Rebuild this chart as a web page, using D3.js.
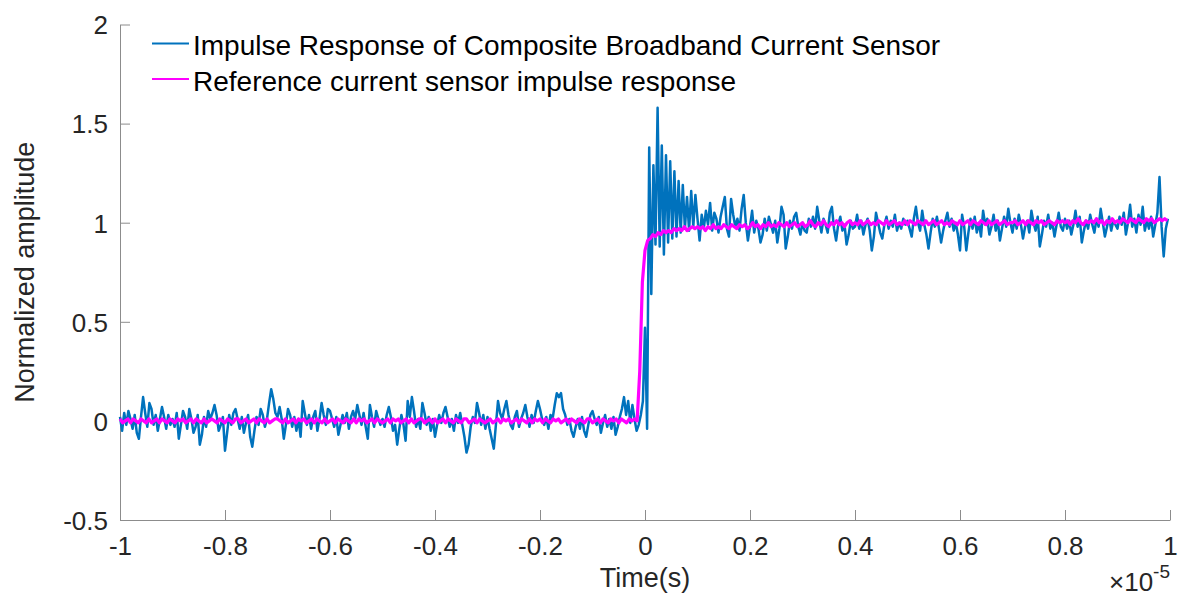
<!DOCTYPE html>
<html>
<head>
<meta charset="utf-8">
<script src="https://cdn.jsdelivr.net/npm/d3@7"></script>
<style>
  html, body { margin: 0; padding: 0; background: #fff; }
  svg { display: block; }
  text { font-family: "Liberation Sans", Arial, Helvetica, sans-serif; }
</style>
</head>
<body>
<svg id="chart" width="1180" height="599"></svg>
<script>
// Sampling grids (time axis in units of 1e-5 s)
const tStart = -1;
const sensorStep = 0.004;
const referenceStep = 0.005;

// Composite broadband current sensor, one row per 0.1e-5 s
const sensorResponse = [
  0.02,-0.05,0.04,-0.02,0.05,0.01,-0.04,0.03,-0.06,-0.09,0.02,0.12,0.04,-0.03,0.09,0.06,-0.02,0.03,-0.05,0.01,0.07,0.02,-0.04,0.03,-0.02,
  0.01,-0.03,0.04,-0.09,-0.02,0.05,0.02,-0.04,0.06,0.01,-0.06,-0.03,0.03,-0.12,-0.07,0.02,-0.03,0.05,0.01,0.04,0.08,0.03,-0.05,-0.02,0.02,
  -0.15,-0.06,0.03,-0.02,0.04,0.06,0.01,-0.04,0.02,-0.06,-0.01,0.03,-0.08,-0.13,-0.05,0.02,-0.02,0.06,0.03,-0.03,0.01,0.09,0.16,0.11,0.04,
  0.02,0.07,0.01,-0.09,-0.02,0.06,0.03,-0.03,0.02,-0.05,0.01,-0.08,0.10,0.04,-0.02,0.03,-0.04,0.02,0.05,-0.05,0.01,0.09,0.03,-0.02,0.06,
  0.05,0.01,-0.03,0.02,-0.07,-0.02,0.03,-0.01,0.04,-0.04,0.02,0.05,0.01,0.08,0.03,-0.02,0.04,-0.03,-0.09,0.08,0.02,-0.03,0.05,0.01,-0.02,
  0.01,-0.03,0.03,0.07,0.02,-0.05,-0.02,-0.12,-0.04,0.03,-0.02,-0.10,0.10,0.02,0.12,0.05,-0.03,0.01,-0.04,0.09,0.04,-0.02,0.02,-0.05,0.01,
  -0.08,-0.02,0.03,-0.01,0.04,0.07,0.02,-0.03,0.01,-0.05,0.03,-0.01,0.04,-0.02,-0.08,-0.16,-0.12,-0.03,0.02,-0.01,0.09,0.04,-0.02,0.03,-0.04,
  0.02,-0.04,-0.09,-0.14,-0.02,0.10,0.04,0.01,0.06,0.10,0.03,-0.02,-0.04,0.02,0.05,-0.03,0.01,0.04,0.08,0.02,-0.03,0.03,-0.01,0.05,0.10,
  0.06,0.01,-0.02,0.02,-0.04,0.03,0.01,0.08,0.14,0.12,0.14,0.06,0.03,-0.02,0.01,-0.05,-0.08,-0.03,0.01,-0.04,0.02,-0.05,-0.08,-0.02,0.03,
  0.05,0.01,-0.02,0.02,-0.06,-0.01,0.03,-0.03,0.01,-0.04,0.02,-0.07,-0.03,0.02,0.06,0.12,0.03,0.10,-0.01,0.08,0.01,-0.05,-0.02,0.03,0.10,
  0.47,-0.04,1.38,0.64,1.29,0.89,1.58,0.88,1.39,0.84,1.34,0.90,1.31,0.92,1.26,0.93,1.21,0.95,1.19,0.97,1.13,0.96,1.16,0.98,1.14,
  1.02,0.91,1.04,0.97,1.06,0.99,1.10,0.96,1.05,1.02,0.95,1.03,1.08,1.13,0.97,0.93,1.12,1.04,0.98,1.02,0.96,1.07,1.14,1.00,0.91,
  0.98,1.06,0.95,1.01,0.97,0.90,0.94,1.02,0.96,1.03,0.99,0.95,1.01,0.90,0.97,1.08,1.04,0.87,0.93,1.01,0.97,1.03,1.05,0.98,0.94,
  1.00,0.96,0.95,1.02,0.98,1.03,0.97,1.08,1.01,0.95,1.02,0.99,0.95,1.05,1.08,0.97,0.91,0.99,1.03,0.96,0.99,0.89,0.94,1.01,0.97,
  0.98,1.04,0.97,1.01,0.94,0.99,1.02,0.96,0.86,0.93,1.05,1.00,0.95,0.92,0.99,1.03,0.97,1.01,0.98,1.04,0.96,1.00,0.97,1.02,0.99,
  1.01,0.97,0.93,1.02,1.08,1.00,0.96,1.06,0.99,0.94,0.87,0.95,1.02,0.98,1.03,0.97,0.90,0.96,1.01,1.05,0.98,1.02,0.96,1.00,0.94,
  0.86,1.04,0.98,0.86,0.95,1.02,0.97,1.03,0.95,1.00,0.93,1.06,0.99,1.02,0.94,0.98,1.04,0.96,1.01,0.91,0.97,1.03,0.98,1.07,1.00,
  0.95,1.02,0.97,1.04,0.99,0.92,0.98,1.01,0.95,1.06,1.00,0.96,1.03,0.88,0.94,1.01,0.98,1.04,0.97,1.00,0.93,0.99,1.05,0.98,0.96,
  1.02,0.97,1.01,0.94,0.99,1.06,0.98,1.03,0.90,0.96,1.01,0.97,1.04,0.99,0.95,1.02,0.98,1.07,1.00,0.93,0.98,1.03,0.96,1.01,0.99,
  0.97,1.03,0.99,1.05,0.94,1.00,1.09,0.98,1.02,0.95,1.04,0.99,1.08,0.96,1.01,0.97,1.03,0.93,0.99,1.05,1.23,0.98,0.83,0.97,1.02
];

// Reference current sensor, one row per 0.1e-5 s
const referenceResponse = [
  0.01,-0.01,0.00,0.01,-0.01,0.01,0.00,-0.01,0.01,0.00,-0.01,0.01,-0.01,0.00,0.01,-0.01,0.01,0.00,-0.01,0.01,
  0.00,-0.01,0.01,0.00,0.01,-0.01,0.00,0.01,-0.01,0.01,0.00,-0.01,0.01,-0.01,0.00,0.01,0.00,-0.01,0.01,0.00,
  -0.01,0.01,0.00,-0.01,0.01,0.01,-0.01,0.00,0.01,-0.01,0.00,0.01,-0.01,0.01,0.00,-0.01,0.01,-0.01,0.00,0.01,
  0.01,0.00,-0.01,0.01,-0.01,0.00,0.01,-0.01,0.01,0.00,0.01,-0.01,0.00,0.01,-0.01,0.01,0.00,-0.01,0.01,-0.01,
  0.00,0.01,-0.01,0.01,0.00,-0.01,0.01,0.00,-0.01,0.01,-0.01,0.01,0.00,0.01,-0.01,0.00,0.01,-0.01,0.01,0.00,
  -0.01,0.00,0.01,-0.01,0.01,0.00,0.01,-0.01,0.00,0.01,-0.01,0.01,-0.01,0.00,0.01,0.01,-0.01,0.00,0.01,-0.01,
  0.01,-0.01,0.00,0.01,-0.01,0.01,0.00,-0.01,0.01,0.00,-0.01,0.01,0.01,-0.01,0.00,0.01,-0.01,0.01,0.00,-0.01,
  0.00,0.01,-0.01,0.00,0.01,-0.01,0.01,0.00,0.01,-0.01,0.00,0.01,-0.01,0.01,0.00,-0.01,0.01,-0.01,0.01,0.00,
  0.01,-0.01,0.01,0.00,-0.01,0.01,0.00,0.01,-0.01,0.00,0.01,-0.01,0.01,0.00,-0.01,0.01,0.00,-0.01,0.01,0.01,
  -0.01,0.00,0.01,-0.01,0.01,0.00,-0.01,0.01,0.00,0.01,-0.01,0.01,0.00,-0.01,0.01,0.00,0.01,0.00,0.25,0.70,
  0.86,0.91,0.92,0.94,0.93,0.95,0.94,0.96,0.95,0.96,0.95,0.97,0.96,0.97,0.96,0.98,0.96,0.97,0.98,0.97,
  0.98,0.97,0.98,0.96,0.98,0.97,0.99,0.97,0.98,0.97,0.99,0.98,0.97,0.99,0.98,0.97,0.99,0.98,0.99,0.97,
  0.98,1.00,0.98,0.99,0.97,0.99,0.98,1.00,0.98,0.99,0.98,1.00,0.99,0.98,1.00,0.98,0.99,1.00,0.98,0.99,
  1.00,0.98,0.99,1.01,0.99,0.98,1.00,0.99,1.01,0.99,0.98,1.00,0.99,1.01,0.99,1.00,0.98,1.00,1.01,0.99,
  1.00,0.99,1.01,0.99,1.00,1.01,0.99,1.00,0.99,1.01,1.00,0.99,1.01,0.99,1.00,1.01,0.99,1.00,0.99,1.01,
  0.99,1.01,1.00,0.99,1.01,1.00,0.99,1.01,0.99,1.00,1.01,0.99,1.00,1.01,0.99,1.00,0.99,1.01,1.00,0.99,
  1.01,0.99,1.00,1.01,0.99,1.01,1.00,0.99,1.01,1.00,0.99,1.01,0.99,1.00,1.01,0.99,1.00,1.01,0.99,1.00,
  1.00,1.01,0.99,1.00,1.01,0.99,1.01,1.00,0.99,1.01,1.00,1.01,0.99,1.00,1.01,1.00,0.99,1.01,1.00,1.01,
  1.00,1.01,0.99,1.01,1.00,1.02,1.00,0.99,1.01,1.00,1.01,1.00,1.02,1.00,1.01,0.99,1.01,1.00,1.02,1.00,
  1.01,1.00,1.02,1.01,1.00,1.02,1.01,1.00,1.02,1.01,1.00,1.02,1.01,1.02,1.00,1.01,1.02,1.01,1.02,1.01
];

const xTicks = [-1, -0.8, -0.6, -0.4, -0.2, 0, 0.2, 0.4, 0.6, 0.8, 1];
const yTicks = [-0.5, 0, 0.5, 1, 1.5, 2];
const seriesNames = [
  "Impulse Response of Composite Broadband Current Sensor",
  "Reference current sensor impulse response"
];
const seriesColors = ["#0072BD", "#FF00FF"];

const svg = d3.select("#chart");
const plot = { left: 120, right: 1170, top: 24.5, bottom: 520 };

const x = d3.scaleLinear().domain([-1, 1]).range([plot.left, plot.right]);
const y = d3.scaleLinear().domain([-0.5, 2]).range([plot.bottom, plot.top]);

const sensorPts = sensorResponse.map((v, i) => [tStart + i * sensorStep, v]);
const referencePts = referenceResponse.map((v, i) => [tStart + i * referenceStep, v]);

const line = d3.line().x(d => x(d[0])).y(d => y(d[1]));

const axisColor = "#8c8c8c";
const textColor = "#262626";
const tickFont = 26;

// x axis (ticks point inward)
const gx = svg.append("g")
  .attr("transform", `translate(0,${plot.bottom})`)
  .call(d3.axisBottom(x).tickValues(xTicks).tickSizeInner(-10).tickSizeOuter(0)
    .tickPadding(17).tickFormat(d => String(d)));

// y axis
const gy = svg.append("g")
  .attr("transform", `translate(${plot.left},0)`)
  .call(d3.axisLeft(y).tickValues(yTicks).tickSizeInner(-10).tickSizeOuter(0)
    .tickPadding(12).tickFormat(d => String(d)));

[gx, gy].forEach(g => {
  g.select(".domain").attr("stroke", axisColor).attr("stroke-width", 1);
  g.selectAll(".tick line").attr("stroke", axisColor).attr("stroke-width", 1);
  g.selectAll(".tick text").attr("fill", textColor).style("font-size", tickFont + "px")
    .attr("font-family", null);
});
gy.selectAll(".tick text").attr("dy", "0.36em");

// series
svg.append("path").datum(sensorPts)
  .attr("d", line).attr("fill", "none")
  .attr("stroke", seriesColors[0]).attr("stroke-width", 2.5)
  .attr("stroke-linejoin", "round");

svg.append("path").datum(referencePts)
  .attr("d", line).attr("fill", "none")
  .attr("stroke", seriesColors[1]).attr("stroke-width", 3.2)
  .attr("stroke-linejoin", "round");

// axis titles
svg.append("text")
  .attr("x", x(0)).attr("y", 587)
  .attr("text-anchor", "middle").attr("fill", textColor)
  .style("font-size", "27px").text("Time(s)");

svg.append("text")
  .attr("transform", `translate(34,${(plot.top + plot.bottom) / 2}) rotate(-90)`)
  .attr("text-anchor", "middle").attr("fill", textColor)
  .style("font-size", "27px").text("Normalized amplitude");

// exponent marker
const expo = svg.append("text")
  .attr("x", plot.right).attr("y", 591)
  .attr("text-anchor", "end").attr("fill", textColor)
  .style("font-size", "26px");
expo.append("tspan").text("\u00D710");
expo.append("tspan").attr("dy", -13).style("font-size", "19px").text("-5");

// legend
const legend = svg.append("g");
seriesNames.forEach((name, i) => {
  const ly = 43.5 + i * 35.5;
  legend.append("line")
    .attr("x1", 152).attr("x2", 189).attr("y1", ly).attr("y2", ly)
    .attr("stroke", seriesColors[i]).attr("stroke-width", 2.2);
  legend.append("text")
    .attr("x", 193).attr("y", ly + 11.5)
    .attr("fill", "#000").style("font-size", "28px").text(name);
});
</script>
</body>
</html>
